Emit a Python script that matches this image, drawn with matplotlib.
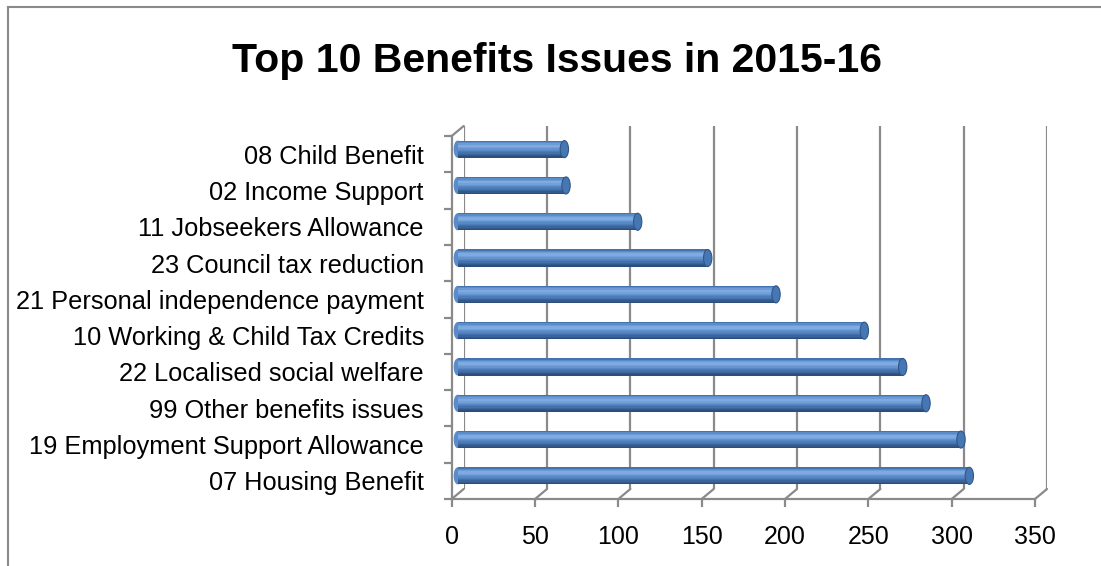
import matplotlib.pyplot as plt
import numpy as np
from matplotlib.patches import Ellipse, ConnectionPatch
from matplotlib.lines import Line2D

# données du graphique (du bas vers le haut)
categories = ["07 Housing Benefit", "19 Employment Support Allowance",
              "99 Other benefits issues", "22 Localised social welfare",
              "10 Working & Child Tax Credits", "21 Personal independence payment",
              "23 Council tax reduction", "11 Jobseekers Allowance",
              "02 Income Support", "08 Child Benefit"]
valeurs = [307, 302, 281, 267, 244, 191, 150, 108, 65, 64]
x_ticks = [0, 50, 100, 150, 200, 250, 300, 350]
titre = "Top 10 Benefits Issues in 2015-16"

W, H = 1101, 566
fig = plt.figure(figsize=(W / 100, H / 100), dpi=100)
plt.rcParams['font.family'] = ['Liberation Sans', 'DejaVu Sans']

gris = "#8a8a8a"

# cadre du graphique (coupé à droite et en bas)
fig.add_artist(Line2D([8 / W, 1], [1 - 7 / H, 1 - 7 / H], color=gris, lw=1.5))
fig.add_artist(Line2D([8 / W, 8 / W], [0, 1 - 7 / H], color=gris, lw=1.5))

# géométrie (pixels)
x0, largeur = 451.7, 583.3
y_sol, hauteur = 499, 363
dx, dy = 12, 10          # profondeur de la perspective


def rect(ox, oy):
    return [(x0 + ox) / W, (H - y_sol + oy) / H, largeur / W, hauteur / H]


# mur du fond : quadrillage vertical
axb = fig.add_axes(rect(dx, dy))
axb.set_xlim(0, 350)
axb.set_ylim(-0.5, 9.5)
axb.set_xticks(x_ticks)
axb.grid(axis="x", color=gris, lw=1.6)
axb.tick_params(length=0, labelbottom=False, labelleft=False)
for s in axb.spines.values():
    s.set_visible(False)
axb.patch.set_alpha(0)

# barres (à mi-profondeur)
axm = fig.add_axes(rect(dx / 2, dy / 2))
axm.set_xlim(0, 350)
axm.set_ylim(-0.5, 9.5)
axm.axis("off")
axm.patch.set_alpha(0)

pos = np.arange(len(categories))
h = 0.47
couleurs = ["#4474b0", "#5a8cca", "#6d9bd6", "#7eaae0", "#80abe0", "#72a0d9",
            "#6493d0", "#5887c6", "#4d7cbb", "#4470ac", "#3b649b", "#33588a",
            "#2c4e7c"]
n = len(couleurs)
for yv in pos:
    axm.add_patch(Ellipse((0, yv), 4, h * 0.92, color="#5b8bc8", zorder=1,
                          clip_on=False))
for k, c in enumerate(couleurs):
    off = h / 2 - (k + 0.5) * h / n
    axm.barh(pos + off, valeurs, height=h / n * 1.05, color=c, lw=0,
             antialiased=False, zorder=2)
for yv, v in zip(pos, valeurs):
    axm.add_patch(Ellipse((v, yv), 5, h, facecolor="#4777b2",
                          edgecolor="#30568a", lw=0.8, zorder=3))

# axes de devant : axe des x, mur de gauche, étiquettes
ax = fig.add_axes(rect(0, 0))
ax.set_xlim(0, 350)
ax.set_ylim(-0.5, 9.5)
ax.patch.set_alpha(0)
for s in ["top", "right"]:
    ax.spines[s].set_visible(False)
for s in ["bottom", "left"]:
    ax.spines[s].set_color(gris)
    ax.spines[s].set_linewidth(1.6)
ax.set_xticks(x_ticks)
ax.set_xticklabels([str(t) for t in x_ticks], fontsize=18)
ax.tick_params(axis="x", length=6, width=1.6, color=gris, pad=13)
ax.set_yticks(pos)
ax.set_yticklabels(categories, fontsize=18.3)
ax.tick_params(axis="y", which="major", length=0, pad=20)
ax.set_yticks(np.arange(-0.5, 10, 1), minor=True)
ax.tick_params(axis="y", which="minor", length=6, width=1.6, color=gris)

# lignes du sol et arête du mur de gauche
for t in x_ticks:
    fig.add_artist(ConnectionPatch((t, -0.5), (t, -0.5), coordsA=ax.transData,
                                   coordsB=axb.transData, color=gris, lw=1.6))
fig.add_artist(ConnectionPatch((0, 9.5), (0, 9.5), coordsA=ax.transData,
                               coordsB=axb.transData, color=gris, lw=1.6))

fig.text(557.5 / W, 1 - 72 / H, titre, ha="center", va="baseline",
         fontsize=29.5, fontweight="bold")

fig.savefig("out.png", dpi=100)
